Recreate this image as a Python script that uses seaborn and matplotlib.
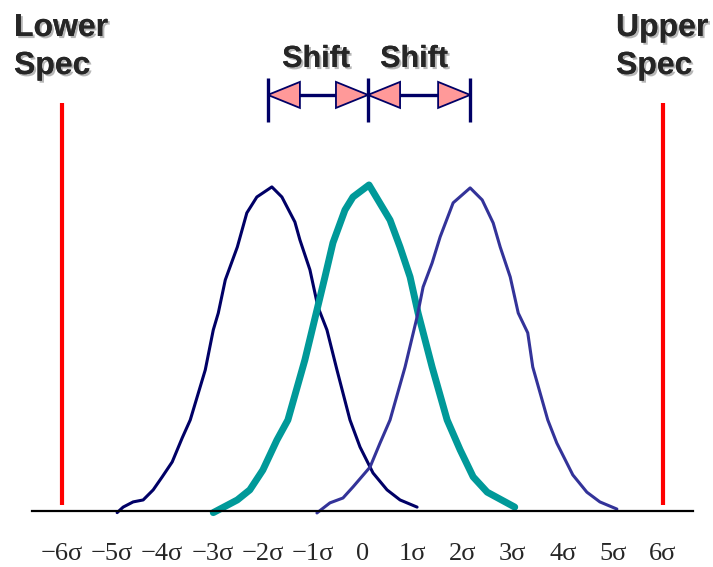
import numpy as np
import pandas as pd
import matplotlib
matplotlib.use("Agg")
import matplotlib.pyplot as plt
import matplotlib.patheffects as pe
from matplotlib.patches import Polygon
import seaborn as sns

# Process distributions (x in sigma units, y = relative frequency)
left_x = [-4.90, -4.78, -4.58, -4.38, -4.18, -4.00, -3.80, -3.60, -3.44, -3.14,
          -2.98, -2.88, -2.74, -2.50, -2.31, -2.11, -1.81, -1.61, -1.35, -1.25,
          -1.05, -0.89, -0.71, -0.51, -0.25, -0.05, 0.21, 0.49, 0.75, 1.09]
left_y = [-0.005, 0.012, 0.028, 0.034, 0.065, 0.105, 0.151, 0.225, 0.280, 0.434,
          0.557, 0.609, 0.711, 0.812, 0.917, 0.966, 0.997, 0.966, 0.889, 0.834,
          0.742, 0.628, 0.557, 0.434, 0.280, 0.197, 0.117, 0.065, 0.034, 0.012]

center_x = [-2.98, -2.50, -2.25, -1.99, -1.71, -1.49, -1.15, -0.91, -0.75, -0.59,
            -0.35, -0.19, 0.13, 0.55, 0.75, 0.95, 1.11, 1.39, 1.69, 1.95,
            2.21, 2.49, 3.04]
center_y = [-0.005, 0.034, 0.065, 0.126, 0.218, 0.280, 0.465, 0.618, 0.720, 0.825,
            0.926, 0.966, 1.003, 0.895, 0.812, 0.720, 0.609, 0.443, 0.280, 0.188,
            0.105, 0.058, 0.012]

right_x = [-0.91, -0.65, -0.39, -0.19, 0.15, 0.35, 0.55, 0.85, 1.09, 1.21,
           1.39, 1.55, 1.81, 2.15, 2.39, 2.61, 2.75, 2.95, 3.11, 3.30,
           3.40, 3.70, 3.88, 4.20, 4.48, 4.74, 5.08]
right_y = [-0.006, 0.025, 0.040, 0.074, 0.135, 0.209, 0.280, 0.443, 0.597, 0.689,
           0.763, 0.843, 0.948, 0.994, 0.957, 0.886, 0.812, 0.720, 0.609, 0.548,
           0.443, 0.280, 0.209, 0.111, 0.058, 0.028, 0.006]

# Process means marked by the shift bars
shift_means = [-1.89, 0.11, 2.15]

# Specification limits
spec_limits = [-6, 6]

tick_values = [-6, -5, -4, -3, -2, -1, 0, 1, 2, 3, 4, 5, 6]
tick_labels = ["\u22126\u03c3", "\u22125\u03c3", "\u22124\u03c3", "\u22123\u03c3",
               "\u22122\u03c3", "\u22121\u03c3", "0", "1\u03c3", "2\u03c3",
               "3\u03c3", "4\u03c3", "5\u03c3", "6\u03c3"]

sns.set_style("white")

W, H = 713, 567
fig = plt.figure(figsize=(W / 100, H / 100), dpi=100)
ax = fig.add_axes([32 / W, (H - 511) / H, 661 / W, 511 / H])
ax.set_xlim(-6.6, 6.6)
ax.set_ylim(0, 1.572)

curves = pd.concat([
    pd.DataFrame({"x": left_x, "y": left_y, "curve": "left"}),
    pd.DataFrame({"x": center_x, "y": center_y, "curve": "center"}),
    pd.DataFrame({"x": right_x, "y": right_y, "curve": "right"}),
])
styles = {"left": ("#000066", 2.2), "center": ("#009999", 5.0), "right": ("#333399", 2.2)}
for name, (color, lw) in styles.items():
    sub = curves[curves["curve"] == name]
    sns.lineplot(data=sub, x="x", y="y", ax=ax, color=color, linewidth=lw,
                 sort=False, estimator=None, clip_on=False,
                 solid_joinstyle="round", solid_capstyle="round")

# Spec limit lines
for s in spec_limits:
    ax.plot([s, s], [0.018, 1.255], color="#ff0000", lw=3, solid_capstyle="butt")

# Shift arrows
bar_lo, bar_hi = 1.197, 1.332
mid_y = 1.280
tri_h = 0.04
tri_len = 0.64
for m in shift_means:
    ax.plot([m, m], [bar_lo, bar_hi], color="#000066", lw=2.4, solid_capstyle="butt",
            clip_on=False)
for a, b in zip(shift_means[:-1], shift_means[1:]):
    ax.plot([a + tri_len, b - tri_len], [mid_y, mid_y], color="#000066", lw=2.4,
            clip_on=False)
    left_tri = Polygon([[a, mid_y], [a + tri_len, mid_y + tri_h], [a + tri_len, mid_y - tri_h]],
                       closed=True, facecolor="#ff9999", edgecolor="#000066", lw=1.3,
                       clip_on=False, zorder=3)
    right_tri = Polygon([[b, mid_y], [b - tri_len, mid_y + tri_h], [b - tri_len, mid_y - tri_h]],
                        closed=True, facecolor="#ff9999", edgecolor="#000066", lw=1.3,
                        clip_on=False, zorder=3)
    ax.add_patch(left_tri)
    ax.add_patch(right_tri)

# Axes styling: only the baseline
sns.despine(ax=ax, left=True, top=True, right=True)
ax.spines["bottom"].set_linewidth(1.6)
ax.spines["bottom"].set_color("black")
ax.set_yticks([])
ax.set_xticks(tick_values)
ax.set_xticklabels(tick_labels, fontfamily="Liberation Serif", fontsize=19)
ax.tick_params(axis="x", length=0, pad=23)
ax.set_xlabel("")
ax.set_ylabel("")

shadow = [pe.withSimplePatchShadow(offset=(1.5, -1.5), shadow_rgbFace="#888888", alpha=0.6),
          pe.Normal()]


def label(px, py, s, size, ha="left"):
    fig.text(px / W, 1 - py / H, s, fontsize=size, fontweight="bold",
             fontfamily="Liberation Sans", ha=ha, va="baseline", path_effects=shadow)


label(14, 36, "Lower", 23)
label(14, 74, "Spec", 23)
label(616, 36, "Upper", 23)
label(616, 74, "Spec", 23)
label(316, 67, "Shift", 22, ha="center")
label(414, 67, "Shift", 22, ha="center")

fig.savefig("out.png", dpi=100)
